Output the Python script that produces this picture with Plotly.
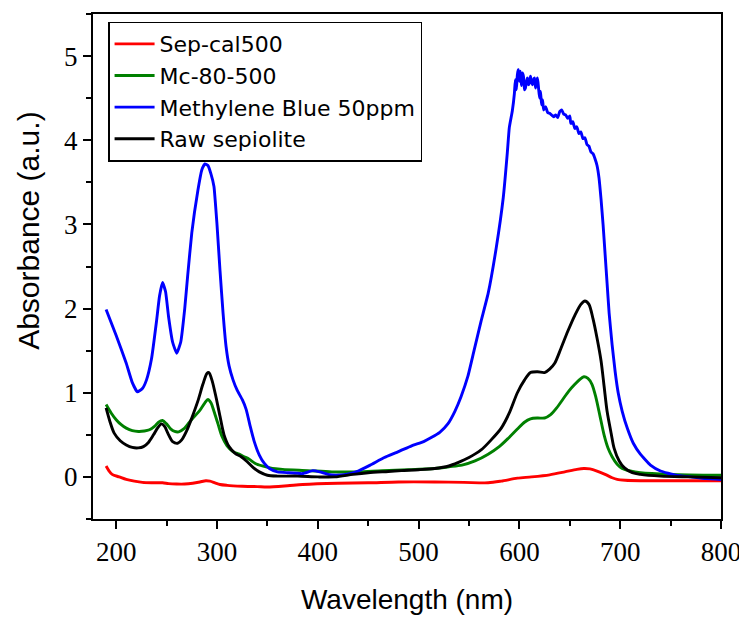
import plotly.graph_objects as go

# ---- data ----
wl_red = [190, 193, 196, 203, 210, 218, 226, 235, 246, 252, 260, 268, 276, 283, 289, 293, 298, 303, 310, 325, 340, 350, 370, 385, 420, 450, 480, 516, 545, 569, 582, 598, 612, 630, 645, 657, 664, 670, 677, 685, 692, 697, 705, 720, 760, 800]
a_red = [0.13, 0.07, 0.03, 0.0, -0.03, -0.05, -0.065, -0.07, -0.07, -0.08, -0.085, -0.085, -0.075, -0.06, -0.045, -0.05, -0.07, -0.09, -0.10, -0.11, -0.115, -0.12, -0.105, -0.09, -0.075, -0.07, -0.06, -0.06, -0.065, -0.07, -0.05, -0.015, 0.0, 0.025, 0.06, 0.09, 0.10, 0.095, 0.07, 0.03, -0.01, -0.03, -0.04, -0.045, -0.045, -0.045]

wl_green = [190, 195, 200, 205, 210, 216, 222, 228, 233, 238, 242, 246, 250, 254, 258, 262, 267, 272, 277, 283, 288, 291, 294, 297, 301, 305, 310, 316, 322, 327, 332, 338, 345, 355, 365, 390, 414, 440, 464, 490, 516, 530, 543, 556, 569, 580, 589, 598, 605, 611, 618, 625, 631, 637, 643, 649, 655, 660, 664, 668, 672, 676, 680, 684, 688, 692, 697, 702, 710, 720, 750, 800]
a_green = [0.86, 0.76, 0.68, 0.62, 0.58, 0.55, 0.54, 0.545, 0.56, 0.60, 0.65, 0.67, 0.63, 0.57, 0.54, 0.535, 0.57, 0.64, 0.71, 0.79, 0.88, 0.92, 0.88, 0.78, 0.63, 0.48, 0.37, 0.30, 0.27, 0.24, 0.21, 0.16, 0.13, 0.10, 0.09, 0.075, 0.06, 0.06, 0.075, 0.085, 0.10, 0.12, 0.14, 0.19, 0.27, 0.36, 0.46, 0.57, 0.65, 0.69, 0.70, 0.70, 0.74, 0.82, 0.92, 1.02, 1.10, 1.16, 1.19, 1.17, 1.10, 0.94, 0.72, 0.50, 0.34, 0.24, 0.15, 0.10, 0.07, 0.05, 0.03, 0.02]

wl_blue = [190, 200, 210, 216, 221, 226, 230, 235, 240, 243, 246, 249, 252, 256, 260, 264, 268, 271, 275, 281, 285, 288, 291, 294, 297, 300, 303, 306, 309, 312, 316, 320, 325, 329, 333, 337, 342, 347, 352, 360, 370, 385, 395, 402, 410, 418, 428, 440, 452, 466, 480, 493, 505, 513, 521, 529, 536, 542, 549, 555, 562, 569, 577, 584, 588, 590, 593, 595, 596, 597, 598, 599, 600, 601, 602, 603, 604, 605, 606, 607, 608, 609, 610, 611, 612, 613, 614, 615, 616, 617, 618, 619, 620, 621, 622, 623, 624, 626, 628, 630, 632, 634, 636, 638, 640, 642, 644, 646, 648, 650, 651, 653, 655, 657, 659, 661, 663, 665, 667, 669, 671, 673, 675, 677, 679, 681, 683, 685, 687, 689, 692, 695, 698, 702, 707, 713, 720, 730, 740, 755, 770, 785, 800]
a_blue = [1.99, 1.68, 1.35, 1.12, 1.01, 1.05, 1.15, 1.40, 1.85, 2.15, 2.31, 2.20, 1.90, 1.60, 1.47, 1.60, 2.00, 2.40, 2.90, 3.40, 3.65, 3.72, 3.70, 3.60, 3.45, 3.00, 2.45, 1.95, 1.55, 1.32, 1.15, 1.03, 0.92, 0.80, 0.60, 0.42, 0.26, 0.16, 0.10, 0.06, 0.05, 0.04, 0.075, 0.06, 0.03, 0.02, 0.03, 0.07, 0.14, 0.23, 0.30, 0.37, 0.42, 0.47, 0.53, 0.63, 0.78, 0.95, 1.20, 1.50, 1.85, 2.18, 2.72, 3.32, 3.85, 4.15, 4.35, 4.55, 4.72, 4.60, 4.78, 4.84, 4.70, 4.82, 4.65, 4.80, 4.76, 4.60, 4.62, 4.70, 4.74, 4.66, 4.68, 4.76, 4.70, 4.66, 4.72, 4.74, 4.62, 4.70, 4.74, 4.62, 4.50, 4.58, 4.42, 4.48, 4.36, 4.40, 4.33, 4.32, 4.30, 4.28, 4.30, 4.27, 4.34, 4.36, 4.31, 4.30, 4.26, 4.29, 4.20, 4.22, 4.14, 4.16, 4.08, 4.10, 4.02, 4.03, 3.95, 3.93, 3.86, 3.84, 3.78, 3.70, 3.55, 3.30, 3.00, 2.65, 2.30, 1.95, 1.57, 1.25, 1.00, 0.78, 0.58, 0.40, 0.27, 0.14, 0.07, 0.02, 0.0, -0.02, -0.03]

wl_black = [190, 194, 198, 204, 210, 216, 222, 227, 232, 237, 241, 245, 248, 252, 256, 261, 265, 270, 275, 281, 286, 290, 292, 295, 299, 303, 307, 312, 318, 324, 330, 336, 342, 350, 360, 380, 400, 417, 435, 450, 470, 483, 500, 516, 530, 539, 550, 562, 572, 582, 590, 598, 605, 611, 618, 625, 630, 635, 641, 648, 655, 661, 665, 669, 673, 677, 681, 684, 687, 691, 694, 699, 704, 712, 720, 740, 770, 800]
a_black = [0.82, 0.65, 0.52, 0.43, 0.38, 0.35, 0.345, 0.36, 0.41, 0.50, 0.58, 0.63, 0.60, 0.50, 0.42, 0.40, 0.44, 0.55, 0.70, 0.90, 1.10, 1.23, 1.24, 1.15, 0.95, 0.72, 0.50, 0.36, 0.28, 0.24, 0.18, 0.11, 0.06, 0.02, 0.01, 0.01, 0.0, 0.0, 0.03, 0.05, 0.065, 0.075, 0.085, 0.10, 0.13, 0.17, 0.23, 0.32, 0.44, 0.58, 0.76, 1.00, 1.15, 1.24, 1.25, 1.24, 1.28, 1.35, 1.52, 1.73, 1.92, 2.05, 2.09, 2.05, 1.88, 1.65, 1.38, 1.08, 0.78, 0.52, 0.34, 0.19, 0.11, 0.05, 0.03, 0.01, 0.0, -0.01]

series = [
    ("Sep-cal500", wl_red, a_red, "#FF0000", 0.8),
    ("Mc-80-500", wl_green, a_green, "#008000", 0.8),
    ("Methylene Blue 50ppm", wl_blue, a_blue, "#0000FF", 0.4),
    ("Raw sepiolite", wl_black, a_black, "#000000", 0.8),
]

x_ticks = [200, 300, 400, 500, 600, 700, 800]
y_ticks = [0, 1, 2, 3, 4, 5]
x_title = "Wavelength (nm)"
y_title = "Absorbance (a.u.)"

SERIF = "Times New Roman, Liberation Serif, serif"
SANS = "Arial, Liberation Sans, sans-serif"

fig = go.Figure()
for name, x, y, color, sm in series:
    fig.add_trace(go.Scatter(x=x, y=y, mode="lines", name=name,
                             line=dict(color=color, width=2.9, shape="spline", smoothing=sm)))

axis_common = dict(
    showline=True, linecolor="black", linewidth=2, mirror=True,
    ticks="outside", ticklen=8, tickwidth=2, tickcolor="black",
    showgrid=False, zeroline=False,
    tickfont=dict(family=SERIF, size=27, color="black"),
)

fig.update_xaxes(range=[177, 800], tickvals=x_ticks,
                 minor=dict(ticks="outside", ticklen=5, tickwidth=2, tickcolor="black", dtick=50, tick0=200),
                 title=dict(text=x_title, font=dict(family=SANS, size=28, color="black"), standoff=23),
                 **axis_common)
fig.update_yaxes(range=[-0.5, 5.5], tickvals=y_ticks,
                 minor=dict(ticks="outside", ticklen=5, tickwidth=2, tickcolor="black", dtick=0.5, tick0=0),
                 **axis_common)

fig.add_annotation(text=y_title, textangle=-90, xref="paper", yref="paper",
                   x=-0.104, y=0.57, xanchor="center", yanchor="middle", showarrow=False,
                   font=dict(family=SANS, size=30, color="black"))

fig.update_layout(
    width=747, height=617,
    margin=dict(l=85, r=34, t=4, b=106),
    plot_bgcolor="white", paper_bgcolor="white",
    legend=dict(x=0.024, y=0.985, xanchor="left", yanchor="top",
                bgcolor="white", bordercolor="black", borderwidth=1.5,
                font=dict(family="DejaVu Sans", size=22, color="black"),
                tracegroupgap=0, itemwidth=40),
    showlegend=True,
)

fig.write_html("out.html")
